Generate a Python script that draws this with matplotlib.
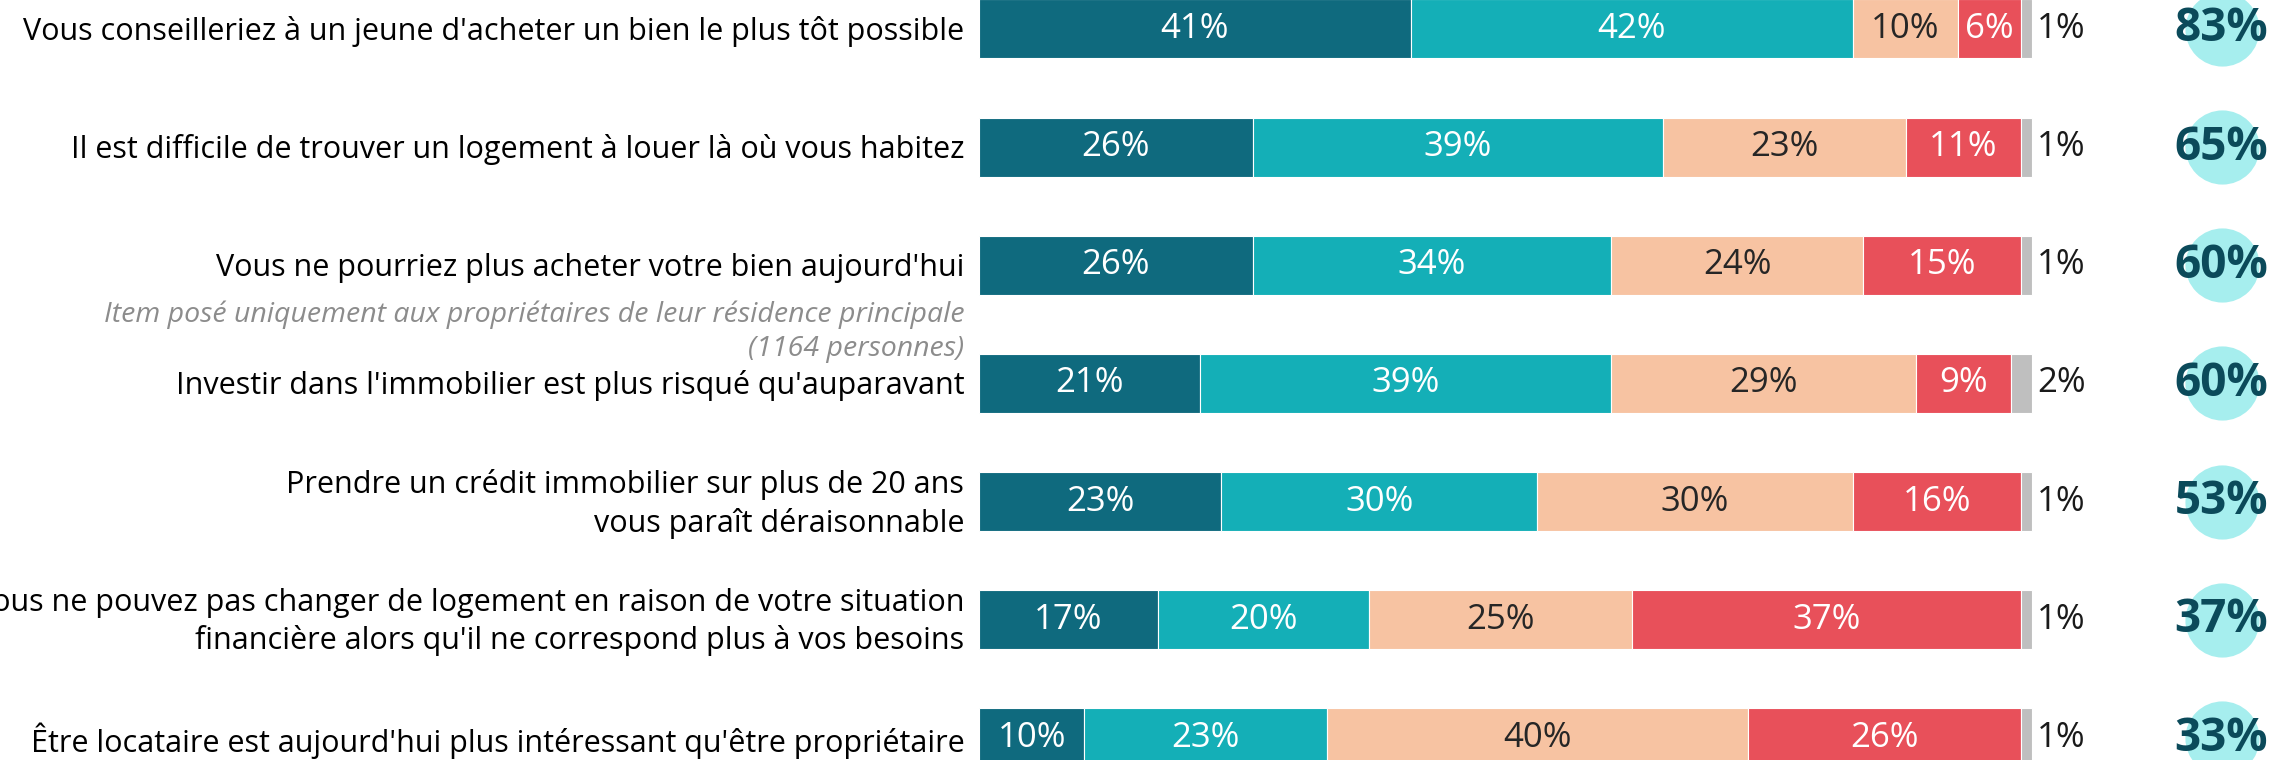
import matplotlib
matplotlib.use("Agg")
import matplotlib.pyplot as plt

plt.rcParams['font.family'] = ['Open Sans', 'DejaVu Sans']

# questions, top to bottom
labels = ["Vous conseilleriez à un jeune d'acheter un bien le plus tôt possible",
          "Il est difficile de trouver un logement à louer là où vous habitez",
          "Vous ne pourriez plus acheter votre bien aujourd'hui",
          "Investir dans l'immobilier est plus risqué qu'auparavant",
          "Prendre un crédit immobilier sur plus de 20 ans\nvous paraît déraisonnable",
          "Vous ne pouvez pas changer de logement en raison de votre situation\nfinancière alors qu'il ne correspond plus à vos besoins",
          "Être locataire est aujourd'hui plus intéressant qu'être propriétaire"]
note = "Item posé uniquement aux propriétaires de leur résidence principale\n(1164 personnes)"

# answer shares in %
tout_a_fait = [41, 26, 26, 21, 23, 17, 10]
plutot_oui = [42, 39, 34, 39, 30, 20, 23]
plutot_non = [10, 23, 24, 29, 30, 25, 40]
pas_du_tout = [6, 11, 15, 9, 16, 37, 26]
nsp = [1, 1, 1, 2, 1, 1, 1]
total_oui = [83, 65, 60, 60, 53, 37, 33]

series = [tout_a_fait, plutot_oui, plutot_non, pas_du_tout, nsp]
colors = ['#0f6a7e', '#14afb7', '#f7c3a2', '#e8505a', '#bfbfbf']
txt_colors = ['white', 'white', '#262626', 'white', None]

fig = plt.figure(figsize=(22.74, 7.6), dpi=100)
ax = fig.add_axes([0, 0, 1, 1])
ax.set_xlim(-93.0, 123.0)
ax.set_ylim(6.186, -0.245)
ax.axis('off')

rows = list(range(len(labels)))
left = [0] * len(labels)
for vals, col, tc in zip(series, colors, txt_colors):
    ax.barh(rows, vals, left=left, height=0.5, color=col, edgecolor='white', linewidth=0.8)
    for r in rows:
        if tc is not None:
            ax.text(left[r] + vals[r] / 2, r, f"{vals[r]}%", ha='center', va='center',
                    color=tc, fontsize=25)
        else:
            ax.text(left[r] + vals[r] + 0.5, r, f"{vals[r]}%", ha='left', va='center',
                    color='#1a1a1a', fontsize=25)
    left = [a + b for a, b in zip(left, vals)]

for r, lab in enumerate(labels):
    ax.text(-1.4, r + 0.02, lab, ha='right', va='center', fontsize=22, color='black',
            linespacing=1.3)

ax.text(-1.4, 2.56, note, ha='right', va='center', fontsize=20.5, color='#8c8c8c',
        style='italic', linespacing=1.3)

# total "oui" bubbles on the right
circle_x = 118.1
ax.scatter([circle_x] * len(rows), rows, s=2850, color='#a6eeee', zorder=2, linewidths=0)
for r in rows:
    ax.text(circle_x - 0.1, r, f"{total_oui[r]}%", ha='center', va='center', fontsize=33,
            fontweight='bold', color='#0b4a5a', zorder=3)

fig.savefig('out.png', dpi=100)
